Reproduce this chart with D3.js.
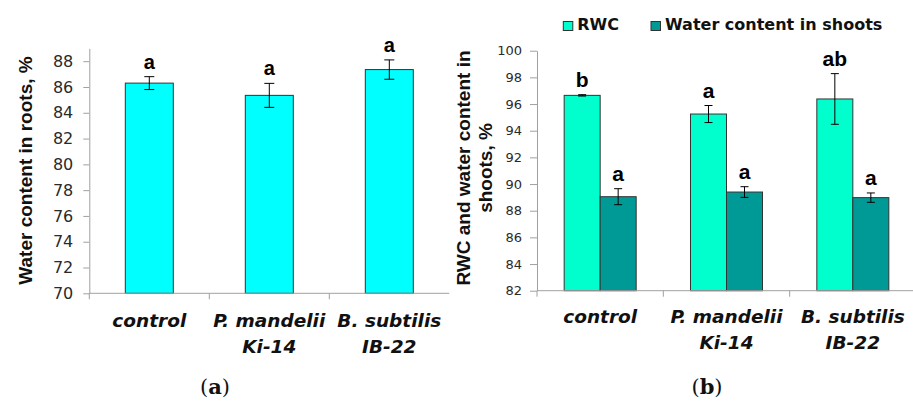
<!DOCTYPE html>
<html>
<head>
<meta charset="utf-8">
<script src="https://cdn.jsdelivr.net/npm/d3@7"></script>
<style>
  body { margin: 0; background: #fff; }
  svg { display: block; }
  .axis path, .axis line { stroke: #a0a0a0; }
  .axis text { fill: #2a2a2a; font-family: "DejaVu Sans", sans-serif; }
</style>
</head>
<body>
<div id="chart"></div>
<script>
// categories, two lines per label
const catLine1 = ["control", "P. mandelii", "B. subtilis"]
const catLine2 = ["", "Ki-14", "IB-22"]

// (a) water content in roots
const rootWater = [86.3, 85.35, 87.35]
const rootErr = [0.5, 0.93, 0.75]
const rootLetters = ["a", "a", "a"]
const rootTicks = [70, 72, 74, 76, 78, 80, 82, 84, 86, 88]

// (b) RWC and water content in shoots
const rwc = [96.65, 95.25, 96.38]
const rwcErr = [0.05, 0.64, 1.9]
const rwcLetters = ["b", "a", "ab"]
const shootWater = [89.05, 89.4, 88.98]
const shootErr = [0.6, 0.4, 0.35]
const shootLetters = ["a", "a", "a"]
const shootTicks = [82, 84, 86, 88, 90, 92, 94, 96, 98, 100]
const seriesNames = ["RWC", "Water content in shoots"]

const colors = {root: "#00ffff", rwc: "#00ffcc", shoot: "#009a96"}

const svg = d3.select("#chart").append("svg")
    .attr("width", 913)
    .attr("height", 403)

// error bar + letter for one bar
function errorBar(g, cx, y, v, e, cap, letter, size) {
    g.append("line").attr("x1", cx).attr("x2", cx).attr("y1", y(v + e)).attr("y2", y(v - e))
        .attr("stroke", "#000").attr("stroke-width", 1)
    ;[v + e, v - e].forEach(val => {
        g.append("line").attr("x1", cx - cap / 2).attr("x2", cx + cap / 2)
            .attr("y1", y(val)).attr("y2", y(val))
            .attr("stroke", "#000").attr("stroke-width", 1)
    })
    g.append("text")
        .attr("x", cx).attr("y", y(v + e) - 8)
        .attr("text-anchor", "middle")
        .style("font-family", "'Liberation Sans', Arial, sans-serif")
        .style("font-weight", "bold")
        .style("font-size", size + "px")
        .text(letter)
}

function categoryAxis(g, x, yPos, fontSize, labelY) {
    const r = x.range()
    g.append("line").attr("x1", r[0]).attr("x2", r[1]).attr("y1", yPos).attr("y2", yPos)
        .attr("stroke", "#a0a0a0")
    x.domain().forEach(c => {
        g.append("line").attr("x1", x(c)).attr("x2", x(c)).attr("y1", yPos).attr("y2", yPos + 6)
            .attr("stroke", "#a0a0a0")
    })
    x.domain().forEach((c, i) => {
        const t = g.append("text")
            .attr("x", x(c) + x.bandwidth() / 2)
            .attr("y", labelY)
            .attr("text-anchor", "middle")
            .style("font-family", "'DejaVu Sans', sans-serif")
            .style("font-weight", "bold")
            .style("font-style", "italic")
            .style("font-size", fontSize + "px")
            .style("fill", "#111")
        t.append("tspan").attr("x", x(c) + x.bandwidth() / 2).text(catLine1[i])
        t.append("tspan").attr("x", x(c) + x.bandwidth() / 2).attr("dy", 26).text(catLine2[i])
    })
}

// ---------- panel (a) ----------
const ga = svg.append("g")
const xa = d3.scaleBand().domain(d3.range(3)).range([89.3, 449.3])
const ya = d3.scaleLinear().domain([70, 89]).range([293.3, 48.3])

ga.append("g")
    .attr("class", "axis")
    .attr("transform", "translate(89.3,0)")
    .call(d3.axisLeft(ya).tickValues(rootTicks).tickSize(6).tickPadding(10).tickSizeOuter(0))
    .call(g => g.selectAll("text").style("font-size", "16px"))

ga.selectAll(".bar")
    .data(rootWater)
    .enter()
    .append("rect")
    .attr("x", (d, i) => xa(i) + xa.bandwidth() * 0.3)
    .attr("width", xa.bandwidth() * 0.4)
    .attr("y", d => ya(d))
    .attr("height", d => ya(70) - ya(d))
    .attr("fill", colors.root)
    .attr("stroke", "#333")
    .attr("stroke-width", 1)

rootWater.forEach((v, i) => {
    errorBar(ga, xa(i) + xa.bandwidth() / 2, ya, v, rootErr[i], 10, rootLetters[i], 20)
})

categoryAxis(ga, xa, 293.3, 18.5, 327)

ga.append("text")
    .attr("transform", "translate(32,170.5) rotate(-90)")
    .attr("text-anchor", "middle")
    .style("font-family", "'Liberation Sans', Arial, sans-serif")
    .style("font-weight", "bold")
    .style("font-size", "19px")
    .style("fill", "#111")
    .text("Water content in roots, %")

// ---------- panel (b) ----------
const gb = svg.append("g")
const xb = d3.scaleBand().domain(d3.range(3)).range([537, 916])
const xs = d3.scaleBand().domain(["rwc", "shoot"]).range([xb.bandwidth() * 0.215, xb.bandwidth() * 0.785])
const yb = d3.scaleLinear().domain([82, 100]).range([290.7, 50.7])

gb.append("g")
    .attr("class", "axis")
    .attr("transform", "translate(537,0)")
    .call(d3.axisLeft(yb).tickValues(shootTicks).tickSize(7).tickPadding(8).tickSizeOuter(0))
    .call(g => g.selectAll("text").style("font-size", "13px"))

const seriesB = [
    {key: "rwc", values: rwc, err: rwcErr, letters: rwcLetters, color: colors.rwc},
    {key: "shoot", values: shootWater, err: shootErr, letters: shootLetters, color: colors.shoot}
]

seriesB.forEach(s => {
    gb.selectAll(".bar-" + s.key)
        .data(s.values)
        .enter()
        .append("rect")
        .attr("x", (d, i) => xb(i) + xs(s.key))
        .attr("width", xs.bandwidth())
        .attr("y", d => yb(d))
        .attr("height", d => yb(82) - yb(d))
        .attr("fill", s.color)
        .attr("stroke", "#333")
        .attr("stroke-width", 1)
    s.values.forEach((v, i) => {
        errorBar(gb, xb(i) + xs(s.key) + xs.bandwidth() / 2, yb, v, s.err[i], 8, s.letters[i], 21)
    })
})

categoryAxis(gb, xb, 290.7, 18.5, 323)

const ylab = gb.append("text")
    .attr("transform", "translate(470,168) rotate(-90)")
    .attr("text-anchor", "middle")
    .style("font-family", "'Liberation Sans', Arial, sans-serif")
    .style("font-weight", "bold")
    .style("font-size", "19px")
    .style("fill", "#111")
ylab.append("tspan").attr("x", 0).text("RWC and water content in")
ylab.append("tspan").attr("x", 0).attr("dy", 22).text("shoots, %")

// legend
const legendX = [563.3, 651]
seriesB.forEach((s, i) => {
    gb.append("rect")
        .attr("x", legendX[i]).attr("y", 21.5)
        .attr("width", 9.5).attr("height", 9)
        .attr("fill", s.color).attr("stroke", "#333")
    gb.append("text")
        .attr("x", legendX[i] + 14).attr("y", 30)
        .style("font-family", "'DejaVu Sans', sans-serif")
        .style("font-weight", "bold")
        .style("font-size", "16px")
        .style("fill", "#111")
        .text(seriesNames[i])
})

// panel captions
;[["a", 215], ["b", 707]].forEach(p => {
    const t = svg.append("text")
        .attr("x", p[1]).attr("y", 394)
        .attr("text-anchor", "middle")
        .style("font-family", "'DejaVu Serif', serif")
        .style("font-size", "21px")
        .style("fill", "#111")
    t.append("tspan").text("(")
    t.append("tspan").style("font-weight", "bold").text(p[0])
    t.append("tspan").text(")")
})
</script>
</body>
</html>
